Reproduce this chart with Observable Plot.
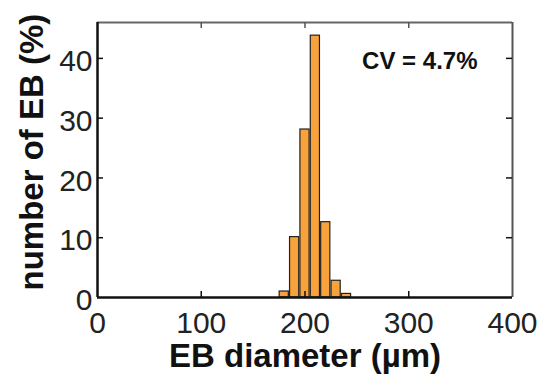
<!DOCTYPE html>
<html>
<head>
<meta charset="utf-8">
<script src="https://cdn.jsdelivr.net/npm/d3@7"></script>
<script src="https://cdn.jsdelivr.net/npm/@observablehq/plot@0.6"></script>
<style>
  html, body { margin: 0; padding: 0; background: #fff; }
  #chart svg { display: block; }
</style>
</head>
<body>
<div id="chart"></div>
<script>
// ---- data ----
const binCenters = [180, 190, 200, 210, 220, 230, 240];   // EB diameter (µm)
const percents   = [1.0, 10.1, 28.1, 43.8, 12.6, 2.8, 0.6]; // number of EB (%)
const xTicks = [0, 100, 200, 300, 400];
const yTicks = [0, 10, 20, 30, 40];
const xLabel = "EB diameter (µm)";
const yLabel = "number of EB (%)";
const note = "CV = 4.7%";

// ---- layout ----
const W = 544, H = 375;
const mL = 97, mR = 32, mT = 22, mB = 78;
const xDom = [0, 400], yDom = [0, 46];
const innerW = W - mL - mR, innerH = H - mT - mB;
const tickPx = 6;
const tx = tickPx * (xDom[1] - xDom[0]) / innerW; // tick length in x units
const ty = tickPx * (yDom[1] - yDom[0]) / innerH; // tick length in y units
const binW = 10;

const bars = binCenters.map((c, i) => ({x1: c - binW / 2, x2: c + binW / 2, y: percents[i]}));
const font = "Liberation Sans, Arial, Helvetica, sans-serif";

const chart = Plot.plot({
  width: W, height: H,
  marginLeft: mL, marginRight: mR, marginTop: mT, marginBottom: mB,
  style: {fontFamily: font, background: "#fff", color: "#222", overflow: "visible"},
  x: {domain: xDom},
  y: {domain: yDom},
  marks: [
    Plot.rectY(bars, {x1: "x1", x2: "x2", y: "y", fill: "#f8a23b", stroke: "#222", strokeWidth: 1.2, insetLeft: 0.6, insetRight: 0.6}),
    // top & right frame (gray)
    Plot.ruleY([yDom[1]], {stroke: "#666", strokeWidth: 2}),
    Plot.ruleX([xDom[1]], {stroke: "#555", strokeWidth: 2}),
    // inward ticks
    Plot.ruleX(xTicks.slice(1, -1), {x: d => d, y1: yDom[0], y2: yDom[0] + ty, stroke: "#111", strokeWidth: 1.5}),
    Plot.ruleX(xTicks.slice(1, -1), {x: d => d, y1: yDom[1], y2: yDom[1] - ty, stroke: "#555", strokeWidth: 1.5}),
    Plot.ruleY(yTicks.slice(1), {y: d => d, x1: xDom[0], x2: xDom[0] + tx, stroke: "#111", strokeWidth: 1.5}),
    Plot.ruleY(yTicks.slice(1), {y: d => d, x1: xDom[1], x2: xDom[1] - tx, stroke: "#111", strokeWidth: 1.5}),
    // left & bottom axis lines (black)
    Plot.ruleY([yDom[0]], {stroke: "#111", strokeWidth: 2.5}),
    Plot.ruleX([xDom[0]], {stroke: "#111", strokeWidth: 2.5}),
    // tick labels
    Plot.axisX(xTicks, {tickSize: 0, tickPadding: 14, fontSize: 30, fill: "#222", label: null}),
    Plot.axisY(yTicks, {tickSize: 0, tickPadding: 5, fontSize: 30, fill: "#222", dy: 3, label: null}),
    // axis titles
    Plot.text([xLabel], {frameAnchor: "bottom", dy: 59, text: d => d, fontSize: 33, fontWeight: "bold", fill: "#111", lineAnchor: "middle", textAnchor: "middle"}),
    Plot.text([yLabel], {frameAnchor: "bottom-left", dx: -65, dy: -7, rotate: -90, text: d => d, fontSize: 33, fontWeight: "bold", fill: "#111", textAnchor: "start", lineAnchor: "middle"}),
    // annotation
    Plot.text([note], {frameAnchor: "top-right", dx: -35, dy: 29, text: d => d, fontSize: 24, fontWeight: "bold", fill: "#111", textAnchor: "end", lineAnchor: "top"})
  ]
});
document.getElementById("chart").appendChild(chart);
</script>
</body>
</html>
